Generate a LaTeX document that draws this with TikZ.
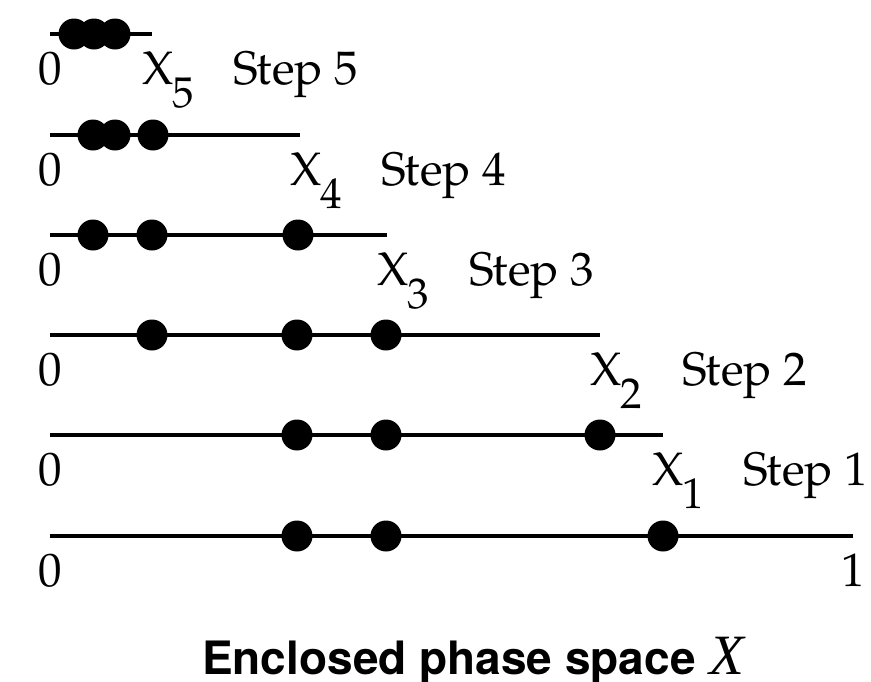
\documentclass[tikz,border=0pt]{standalone}
\usepackage{fontspec}
\setmainfont{TeX Gyre Pagella}
\newfontfamily\heros{TeX Gyre Heros}
\newfontfamily\tms{Liberation Serif}
\begin{document}
\begin{tikzpicture}[x=1pt,y=-1pt,
  axis/.style={line width=3.5pt},
  dot/.style={circle,fill=black,inner sep=0pt,minimum size=31pt},
  lbl/.style={font=\fontsize{47}{54}\selectfont,inner sep=0pt,anchor=base},
  lblw/.style={lbl,anchor=base west},
]
\useasboundingbox (0,0) rectangle (871,681);
\newcommand{\xsub}[1]{X\kern-1pt\raisebox{-23pt}{\fontsize{43}{50}\selectfont #1}}

% Row 5 (top)
\coordinate (s5) at (50,34); \coordinate (e5) at (152,34);
\draw[axis] (s5) -- (e5);
\node[dot] (d5a) at (74,34) {};
\node[dot] (d5b) at (94,34) {};
\node[dot] (d5c) at (115,34) {};
\node[lbl] (z5) at (50,84) {0};
\node[lblw] (x5) at (142,84) {\xsub{5}};
\node[lblw] (t5) at (233,84) {Step 5};

% Row 4
\coordinate (s4) at (50,135); \coordinate (e4) at (300,135);
\draw[axis] (s4) -- (e4);
\node[dot] (d4a) at (93,135) {};
\node[dot] (d4b) at (115,135) {};
\node[dot] (d4c) at (153,135) {};
\node[lbl] (z4) at (50,185) {0};
\node[lblw] (x4) at (290,185) {\xsub{4}};
\node[lblw] (t4) at (381,185) {Step 4};

% Row 3
\coordinate (s3) at (50,235); \coordinate (e3) at (387,235);
\draw[axis] (s3) -- (e3);
\node[dot] (d3a) at (93,235) {};
\node[dot] (d3b) at (152,235) {};
\node[dot] (d3c) at (298,235) {};
\node[lbl] (z3) at (50,285) {0};
\node[lblw] (x3) at (377,285) {\xsub{3}};
\node[lblw] (t3) at (469,285) {Step 3};

% Row 2
\coordinate (s2) at (50,335); \coordinate (e2) at (600,335);
\draw[axis] (s2) -- (e2);
\node[dot] (d2a) at (152,335) {};
\node[dot] (d2b) at (297,335) {};
\node[dot] (d2c) at (386,335) {};
\node[lbl] (z2) at (50,385) {0};
\node[lblw] (x2) at (590,385) {\xsub{2}};
\node[lblw] (t2) at (682,385) {Step 2};

% Row 1
\coordinate (s1) at (50,435); \coordinate (e1) at (663,435);
\draw[axis] (s1) -- (e1);
\node[dot] (d1a) at (297,435) {};
\node[dot] (d1b) at (386,435) {};
\node[dot] (d1c) at (600,435) {};
\node[lbl] (z1) at (50,485) {0};
\node[lblw] (x1) at (652,485) {\xsub{1}};
\node[lblw] (t1) at (743,485) {Step 1};

% Row 0 (bottom)
\coordinate (s0) at (50,536); \coordinate (e0) at (853,536);
\draw[axis] (s0) -- (e0);
\node[dot] (d0a) at (297,536) {};
\node[dot] (d0b) at (386,536) {};
\node[dot] (d0c) at (663,536) {};
\node[lbl] (z0) at (50,586) {0};
\node[lbl] (o0) at (853,586) {1};

% Title
\node[anchor=base west,inner sep=0pt] (title) at (202,674)
  {{\heros\bfseries\fontsize{46}{52}\selectfont Enclosed phase space}\hspace{14pt}{\tms\itshape\fontsize{57}{60}\selectfont X}};
\end{tikzpicture}
\end{document}
